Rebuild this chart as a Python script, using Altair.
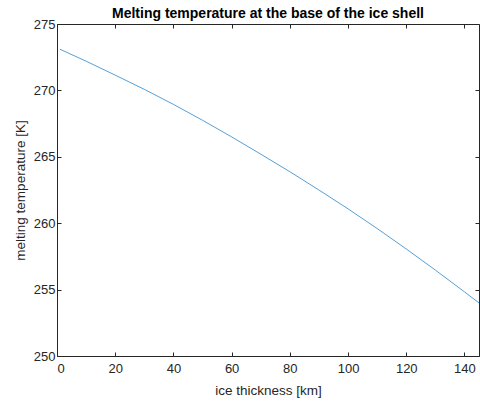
import altair as alt
import pandas as pd

# ice thickness [km] and melting temperature [K]
thickness = [1, 10, 20, 30, 40, 50, 60, 70, 80, 90, 100, 110, 120, 130, 140, 145]
temperature = [273.1, 272.2, 271.15, 270.08, 268.95, 267.75, 266.5, 265.2, 263.88,
               262.5, 261.08, 259.6, 258.06, 256.47, 254.83, 254.0]
x_ticks = [0, 20, 40, 60, 80, 100, 120, 140]
y_ticks = [250, 255, 260, 265, 270, 275]

df = pd.DataFrame({"x": thickness, "y": temperature})

W, H = 422, 332
FONT = "Liberation Sans"
AX = "#262626"
INWARD = alt.ExprRef("-4")

xs = alt.Scale(domain=[0, 145], nice=False, zero=False)
ys = alt.Scale(domain=[250, 275], nice=False, zero=False)

base = alt.Chart(df)

main = base.mark_line(color="#2a86cc", strokeWidth=0.8).encode(
    x=alt.X("x:Q", scale=xs, axis=alt.Axis(
        values=x_ticks, tickSize=INWARD, tickColor=AX, domain=False, grid=False,
        labelPadding=10, labelFontSize=13, labelColor=AX, labelFont=FONT,
        title="ice thickness [km]", titleFontSize=13.5, titleFont=FONT,
        titleColor=AX, titleFontWeight="normal", titlePadding=8)),
    y=alt.Y("y:Q", scale=ys, axis=alt.Axis(
        values=y_ticks, tickSize=INWARD, tickColor=AX, domain=False, grid=False,
        labelPadding=6, labelFontSize=13, labelColor=AX, labelFont=FONT,
        title="melting temperature [K]", titleFontSize=13.5, titleFont=FONT,
        titleColor=AX, titleFontWeight="normal", titlePadding=6)),
)

tick_kw = dict(labels=False, domain=False, grid=False, title=None,
               tickSize=INWARD, tickColor=AX, tickWidth=1)

inner = base.mark_line(opacity=0).encode(
    x=alt.X("x:Q", scale=xs, axis=alt.Axis(orient="top", values=x_ticks, **tick_kw)),
    y=alt.Y("y:Q", scale=ys, axis=alt.Axis(orient="right", values=y_ticks, **tick_kw)),
)

chart = alt.layer(main, inner).resolve_axis(
    x="independent", y="independent"
).properties(
    width=W, height=H,
    title=alt.TitleParams(
        "Melting temperature at the base of the ice shell",
        fontSize=14, font=FONT, fontWeight="bold", color="black",
        anchor="middle", baseline="alphabetic", offset=-14),
    padding={"left": 57, "top": 24, "right": 1, "bottom": 47},
    autosize=alt.AutoSizeParams(type="none"),
    background="white",
).configure_view(stroke=AX, strokeWidth=1)

chart.save("out.html", embed_options={"renderer": "svg", "actions": False})
